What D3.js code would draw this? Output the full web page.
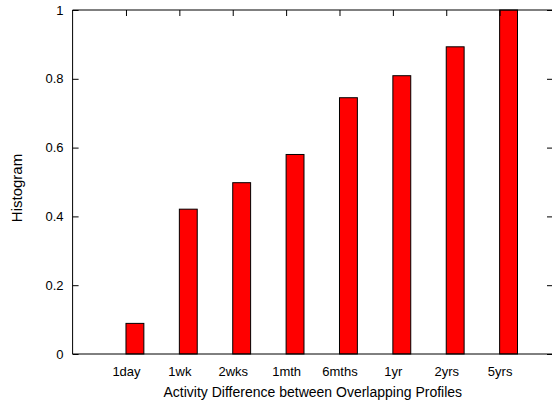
<!DOCTYPE html>
<meta charset="utf-8">
<style>
body { margin: 0; background: #fff; }
text { font-family: "Liberation Sans", Arial, sans-serif; fill: #000; }
.tick text { font-size: 13px; }
</style>
<script src="https://d3js.org/d3.v7.min.js"></script>
<div id="chart"></div>
<script>
// data
var categories = ["1day", "1wk", "2wks", "1mth", "6mths", "1yr", "2yrs", "5yrs"];
var values = [0.089, 0.421, 0.498, 0.580, 0.745, 0.809, 0.893, 1.0];
var yTicks = [0, 0.2, 0.4, 0.6, 0.8, 1];

var W = 552, H = 401;
var m = {left: 72.6, right: 553, top: 10, bottom: 354};

var x = d3.scaleLinear().domain([0, 9]).range([m.left, m.right]);
var y = d3.scaleLinear().domain([0, 1]).range([m.bottom, m.top]);
var boxW = 0.335;

var svg = d3.select("#chart").append("svg")
    .attr("width", W)
    .attr("height", H);

// bars
svg.selectAll("rect.bar")
    .data(values)
    .enter().append("rect")
    .attr("class", "bar")
    .attr("x", function(d, i) { return x(i + 1); })
    .attr("width", x(boxW) - x(0))
    .attr("y", function(d) { return y(d); })
    .attr("height", function(d) { return y(0) - y(d); })
    .attr("fill", "#ff0000")
    .attr("stroke", "#000")
    .attr("stroke-width", 1);

// y axis, left + mirrored right
var yAxis = d3.axisLeft(y).tickValues(yTicks).tickSize(-6).tickPadding(9)
    .tickFormat(function(d) { return d3.format("~g")(d); });
var gy = svg.append("g").attr("transform", "translate(" + m.left + ",0)").call(yAxis);
gy.select(".domain").remove();
gy.selectAll("text").attr("font-family", null).attr("font-size", null);
gy.attr("font-family", null).attr("font-size", null);

var gyr = svg.append("g").attr("transform", "translate(" + m.right + ",0)")
    .call(d3.axisRight(y).tickValues(yTicks).tickSize(-6).tickFormat(""));
gyr.select(".domain").remove();

// x axis bottom + mirrored top ticks
var xAxis = d3.axisBottom(x).tickValues(d3.range(1, 9)).tickSize(0).tickPadding(13)
    .tickFormat(function(d) { return categories[d - 1]; });
var gx = svg.append("g").attr("transform", "translate(0," + m.bottom + ")").call(xAxis);
gx.select(".domain").remove();
gx.attr("font-family", null).attr("font-size", null);

var gxt = svg.append("g").attr("transform", "translate(0," + m.top + ")")
    .call(d3.axisTop(x).tickValues(d3.range(1, 9)).tickSize(-6).tickFormat(""));
gxt.select(".domain").remove();

// frame
svg.append("line").attr("x1", m.left).attr("x2", m.right).attr("y1", m.top).attr("y2", m.top).attr("stroke", "#000");
svg.append("line").attr("x1", m.left).attr("x2", m.right).attr("y1", m.bottom).attr("y2", m.bottom).attr("stroke", "#000");
svg.append("line").attr("x1", m.left).attr("x2", m.left).attr("y1", m.top).attr("y2", m.bottom).attr("stroke", "#000");

// labels
svg.append("text")
    .attr("x", (m.left + m.right) / 2)
    .attr("y", 397)
    .attr("text-anchor", "middle")
    .style("font-size", "14px")
    .text("Activity Difference between Overlapping Profiles");

svg.append("text")
    .attr("transform", "translate(22,188) rotate(-90)")
    .attr("text-anchor", "middle")
    .style("font-size", "15px")
    .text("Histogram");
</script>
